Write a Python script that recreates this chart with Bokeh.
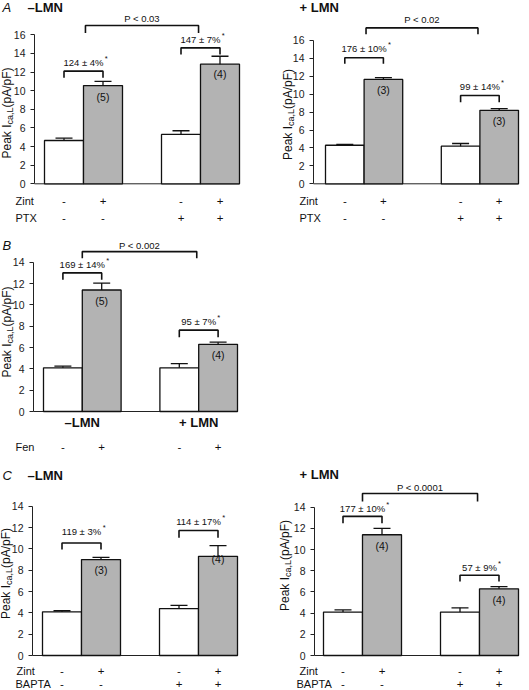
import math
from bokeh.plotting import figure
from bokeh.models import Range1d, Label, FixedTicker
from bokeh.layouts import row, column
from bokeh.embed import file_html
from bokeh.resources import INLINE

FONT = "Liberation Sans"

# ---------------- data ----------------
bar_positions = [0, 1, 3, 4]
bar_fills = ["white", "#b3b3b3", "white", "#b3b3b3"]

a_minus_values = [4.65, 10.55, 5.3, 12.85]
a_minus_errors = [0.25, 0.45, 0.4, 0.85]
a_minus_n = ["", "(5)", "", "(4)"]
a_minus_effects = ["124 ± 4%", "147 ± 7%"]
a_minus_p = "P < 0.03"

a_plus_values = [4.3, 11.65, 4.2, 8.2]
a_plus_errors = [0.1, 0.2, 0.3, 0.2]
a_plus_n = ["", "(3)", "", "(3)"]
a_plus_effects = ["176 ± 10%", "99 ± 14%"]
a_plus_p = "P < 0.02"

b_values = [4.1, 11.4, 4.1, 6.3]
b_errors = [0.15, 0.65, 0.4, 0.2]
b_n = ["", "(5)", "", "(4)"]
b_effects = ["169 ± 14%", "95 ± 7%"]
b_p = "P < 0.002"
b_groups = ["–LMN", "+ LMN"]

c_minus_values = [4.1, 9.0, 4.4, 9.3]
c_minus_errors = [0.1, 0.2, 0.3, 1.0]
c_minus_n = ["", "(3)", "", "(4)"]
c_minus_effects = ["119 ± 3%", "114 ± 17%"]

c_plus_values = [4.1, 11.4, 4.1, 6.3]
c_plus_errors = [0.2, 0.6, 0.4, 0.2]
c_plus_n = ["", "(4)", "", "(4)"]
c_plus_effects = ["177 ± 10%", "57 ± 9%"]
c_plus_p = "P < 0.0001"

zint_signs = ["-", "+", "-", "+"]
ptx_signs = ["-", "-", "+", "+"]
fen_signs = ["-", "+", "-", "+"]
bapta_signs = ["-", "-", "+", "+"]

# --------------- text width helper (Arial metrics) ---------------
_W = {" ": 278, "±": 584, "%": 889, "<": 584, ".": 278, "P": 667, "(": 333,
      ")": 333, "I": 278, ",": 278, "/": 278, "c": 500, "k": 500, "F": 611,
      "A": 667, "L": 556}


def text_w(s, size):
    return sum(_W.get(ch, 556) for ch in s) / 1000.0 * size


def build(spec):
    W, H = spec["width"], spec["height"]
    ax, bl, bw = spec["axis_px"], spec["bar_left_px"], spec["bar_w_px"]
    y0, ppu = spec["zero_px"], spec["px_per_unit"]

    def px2x(px):
        return (px - bl) / bw - 0.5

    def py2y(py):
        return (y0 - py) / ppu

    p = figure(width=W, height=H, output_backend="svg", toolbar_location=None,
               title=None, x_range=Range1d(px2x(0), px2x(W)),
               y_range=Range1d(py2y(H), py2y(0)), x_axis_location=None,
               min_border_left=0, min_border_right=0, min_border_top=0,
               min_border_bottom=0)
    p.outline_line_color = None
    p.grid.visible = False
    p.background_fill_color = "white"
    p.border_fill_color = "white"

    ymax = spec["ymax"]
    yax = p.yaxis[0]
    yax.fixed_location = px2x(ax)
    yax.bounds = (0, ymax)
    yax.ticker = FixedTicker(ticks=list(range(0, ymax + 1, 2)))
    yax.axis_line_color = "#222222"
    yax.major_tick_line_color = "#222222"
    yax.major_tick_out = 4
    yax.major_tick_in = 0
    yax.minor_tick_out = 0
    yax.minor_tick_in = 0
    yax.major_label_text_font = FONT
    yax.major_label_text_font_size = "10.5px"
    yax.major_label_text_color = "#222222"
    yax.major_label_standoff = 5

    vals, errs = spec["values"], spec["errors"]
    # baseline
    p.segment(x0=[px2x(ax)], y0=[0], x1=[4.5], y1=[0], line_color="#222222", line_width=1)
    # bars
    p.vbar(x=bar_positions, top=vals, bottom=0, width=1.0, fill_color=bar_fills,
           line_color="#111111", line_width=1.3)
    # error bars
    tops = [v + e for v, e in zip(vals, errs)]
    cap = 17.0 / bw
    p.segment(x0=bar_positions, y0=vals, x1=bar_positions, y1=tops,
              line_color="#111111", line_width=1.3)
    p.segment(x0=[x - cap / 2 for x in bar_positions], y0=tops,
              x1=[x + cap / 2 for x in bar_positions], y1=tops,
              line_color="#111111", line_width=1.3)

    # n labels
    for x, v, n, dy in zip(bar_positions, vals, spec["n"], spec["n_dy"]):
        if n:
            p.add_layout(Label(x=x, y=v - dy / ppu, text=n, text_font=FONT,
                               text_font_size="10.5px", text_align="center",
                               text_baseline="middle", text_color="#111111"))

    # brackets
    for (x1, x2, yt, yl, txt, ty, star) in spec["brackets"]:
        p.multi_line(xs=[[x1, x1, x2, x2]], ys=[[yl, yt, yt, yl]],
                     line_color="#111111", line_width=1.6)
        cx = (x1 + x2) / 2
        p.add_layout(Label(x=cx, y=ty, text=txt, text_font=FONT,
                           text_font_size="9.5px", text_align="center",
                           text_baseline="middle", text_color="#111111"))
        if star:
            sx = cx + (text_w(txt, 9.5) / 2 + 1.0) / bw
            p.add_layout(Label(x=sx, y=ty + 4.0 / ppu, text="*", text_font=FONT,
                               text_font_size="7.5px", text_align="left",
                               text_baseline="middle", text_color="#111111"))

    # treatment rows
    for (name, signs, lx, ly) in spec["rows"]:
        p.add_layout(Label(x=px2x(lx), y=py2y(ly), text=name, text_font=FONT,
                           text_font_size="11px", text_align="left",
                           text_baseline="middle", text_color="#111111"))
        for x, s in zip(bar_positions, signs):
            p.add_layout(Label(x=x, y=py2y(ly), text=s, text_font=FONT,
                               text_font_size="11.5px", text_align="center",
                               text_baseline="middle", text_color="#111111"))

    # group labels under bars (panel B)
    for (gx, gtxt, gy) in spec.get("groups", []):
        p.add_layout(Label(x=gx, y=py2y(gy), text=gtxt, text_font=FONT,
                           text_font_size="13px", text_font_style="bold",
                           text_align="center", text_baseline="middle",
                           text_color="#111111"))

    # titles
    for (tx, ty, ttxt, style) in spec["titles"]:
        p.add_layout(Label(x=px2x(tx), y=py2y(ty), text=ttxt, text_font=FONT,
                           text_font_size="13px", text_font_style=style,
                           text_align="left", text_baseline="middle",
                           text_color="#111111"))

    # rotated y-axis label: Peak I_{ca,L}(pA/pF)
    lx, lmid = spec["ylabel_px"], spec["ylabel_mid_px"]
    parts = [("Peak I", 12, 0), ("ca,L", 9, 3.0), ("(pA/pF)", 12, 0)]
    total = sum(text_w(t, s) for t, s, _ in parts)
    start = lmid + total / 2
    for t, s, shift in parts:
        p.add_layout(Label(x=px2x(lx + shift), y=py2y(start), text=t, text_font=FONT,
                           text_font_size=f"{s}px", angle=math.pi / 2,
                           text_align="left", text_baseline="middle",
                           text_color="#111111"))
        start -= text_w(t, s)
    return p


def brk(effects, p_text, pair_y, p_y):
    out = []
    (t1, l1, y1), (t2, l2, y2) = pair_y
    out.append((0, 1, t1, l1, effects[0], y1, True))
    out.append((3, 4, t2, l2, effects[1], y2, True))
    if p_text:
        out.append((p_y[0], p_y[1], p_y[2], p_y[3], p_text, p_y[4], False))
    return out


spec_a1 = dict(width=264, height=226, axis_px=34, bar_left_px=44, bar_w_px=39,
               zero_px=183.3, px_per_unit=9.31, ymax=16,
               values=a_minus_values, errors=a_minus_errors, n=a_minus_n, n_dy=[0, 11.4, 0, 10],
               brackets=brk(a_minus_effects, a_minus_p,
                            [(12.1, 11.4, 13.05), (14.6, 13.9, 15.47)],
                            (0.55, 3.45, 17.0, 16.2, 17.75)),
               rows=[("Zint", zint_signs, 15, 200.7), ("PTX", ptx_signs, 15, 217)],
               titles=[(2, 7, "A", "italic"), (27, 7, "–LMN", "bold")],
               ylabel_px=6, ylabel_mid_px=112.5)

spec_a2 = dict(width=265, height=226, axis_px=49, bar_left_px=61, bar_w_px=38.6,
               zero_px=183.3, px_per_unit=8.96, ymax=16,
               values=a_plus_values, errors=a_plus_errors, n=a_plus_n, n_dy=[0, 10.3, 0, 10.3],
               brackets=brk(a_plus_effects, a_plus_p,
                            [(14.06, 13.4, 15.06), (9.85, 9.1, 10.86)],
                            (0.55, 3.45, 17.4, 16.7, 18.3)),
               rows=[("Zint", zint_signs, 35, 200.7), ("PTX", ptx_signs, 35, 217)],
               titles=[(35, 7, "+ LMN", "bold")],
               ylabel_px=23, ylabel_mid_px=114)

spec_b = dict(width=264, height=228, axis_px=33, bar_left_px=43, bar_w_px=38.8,
              zero_px=185, px_per_unit=10.66, ymax=14,
              values=b_values, errors=b_errors, n=b_n, n_dy=[0, 10.7, 0, 10.7],
              brackets=brk(b_effects, b_p,
                           [(13.0, 12.35, 13.75), (7.63, 6.97, 8.4)],
                           (0.5, 3.45, 15.0, 14.38, 15.6)),
              rows=[("Fen", fen_signs, 15, 220)],
              groups=[(0.5, b_groups[0], 195.7), (3.5, b_groups[1], 195.7)],
              titles=[(2, 19, "B", "italic")],
              ylabel_px=6, ylabel_mid_px=105.5)

spec_c1 = dict(width=264, height=236, axis_px=32, bar_left_px=42, bar_w_px=39,
               zero_px=201, px_per_unit=10.66, ymax=14,
               values=c_minus_values, errors=c_minus_errors, n=c_minus_n, n_dy=[0, 10, 0, 2.3],
               brackets=brk(c_minus_effects, None,
                            [(10.56, 9.94, 11.63), (11.72, 11.04, 12.57)], None),
               rows=[("Zint", zint_signs, 16, 216), ("BAPTA", bapta_signs, 15, 229.5)],
               titles=[(2, 21, "C", "italic"), (27, 21, "–LMN", "bold")],
               ylabel_px=5, ylabel_mid_px=119)

spec_c2 = dict(width=265, height=236, axis_px=50, bar_left_px=59, bar_w_px=39,
               zero_px=201, px_per_unit=10.59, ymax=14,
               values=c_plus_values, errors=c_plus_errors, n=c_plus_n, n_dy=[0, 11, 0, 11],
               brackets=brk(c_plus_effects, c_plus_p,
                            [(13.14, 12.48, 13.85), (7.58, 6.98, 8.34)],
                            (0.5, 3.45, 15.3, 14.55, 15.9)),
               rows=[("Zint", zint_signs, 35, 216), ("BAPTA", bapta_signs, 32, 229.5)],
               titles=[(35, 20, "+ LMN", "bold")],
               ylabel_px=20, ylabel_mid_px=111)

pa1, pa2 = build(spec_a1), build(spec_a2)
pb = build(spec_b)
pc1, pc2 = build(spec_c1), build(spec_c2)

layout = column(row(pa1, pa2), row(pb), row(pc1, pc2))

open("out.html", "w").write(file_html(layout, INLINE))
